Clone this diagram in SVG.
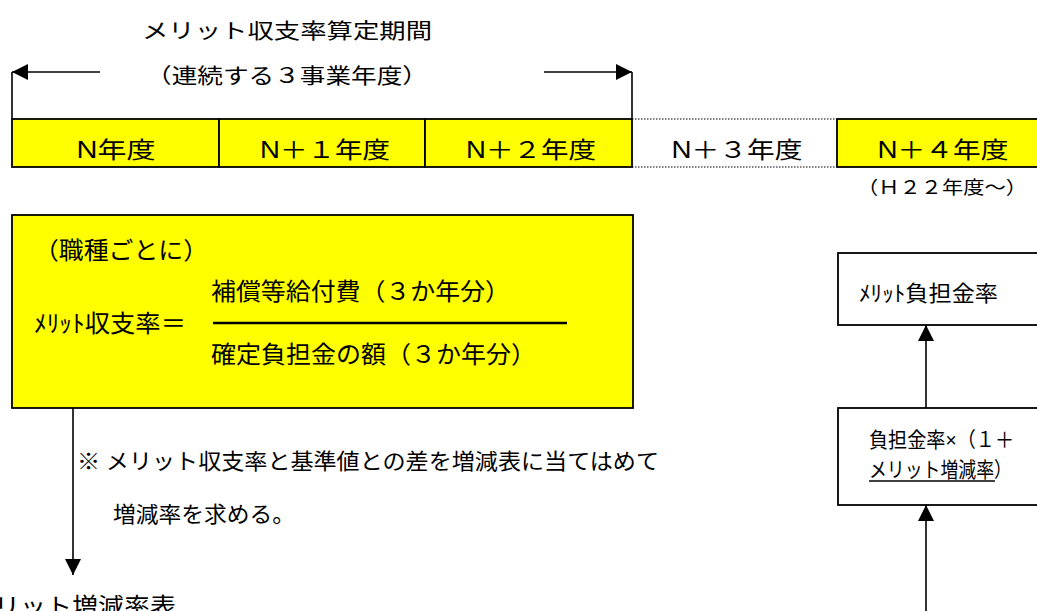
<svg xmlns="http://www.w3.org/2000/svg" width="1037" height="611" viewBox="0 0 1037 611">
<style>
.sans{font-family:"Liberation Sans","Noto Sans CJK JP",sans-serif;fill:#000}
.serif{font-family:"Liberation Serif","Noto Sans CJK JP",serif;fill:#000}
.ln{stroke:#000;stroke-width:1.6;fill:none}
.yel{fill:#ffff00;stroke:#000;stroke-width:1.8}
.box{fill:#fff;stroke:#000;stroke-width:1.8}
.dot{stroke:#000;stroke-width:1.2;stroke-dasharray:1.5 1.5;fill:none}
</style>
<defs>
<marker id="ah" viewBox="0 0 16 16" refX="16" refY="8" markerWidth="16" markerHeight="16" markerUnits="userSpaceOnUse" orient="auto">
<path d="M0,0 L16,8 L0,16 z" fill="#000"/>
</marker>
</defs>
<rect width="1037" height="611" fill="#fff"/>

<g id="period-label">
<text class="sans" x="287" y="38" font-size="21" text-anchor="middle" textLength="290" lengthAdjust="spacingAndGlyphs">メリット収支率算定期間</text>
<text class="sans" x="287" y="83" font-size="21" text-anchor="middle" textLength="282" lengthAdjust="spacingAndGlyphs">（連続する３事業年度）</text>
</g>

<g id="year-n">
<rect class="yel" x="12" y="119" width="207" height="48"/>
<text class="sans" x="116" y="158" font-size="23" text-anchor="middle" textLength="79" lengthAdjust="spacingAndGlyphs">N年度</text>
</g>
<g id="year-n1">
<rect class="yel" x="219" y="119" width="206" height="48"/>
<text class="sans" x="325" y="158" font-size="23" text-anchor="middle" textLength="130" lengthAdjust="spacingAndGlyphs">N＋１年度</text>
</g>
<g id="year-n2">
<rect class="yel" x="425" y="119" width="207" height="48"/>
<text class="sans" x="531" y="158" font-size="23" text-anchor="middle" textLength="130" lengthAdjust="spacingAndGlyphs">N＋２年度</text>
</g>
<g id="year-n3">
<line class="dot" x1="632" y1="119" x2="837" y2="119"/>
<line class="dot" x1="632" y1="167" x2="837" y2="167"/>
<text class="sans" x="737" y="158" font-size="23" text-anchor="middle" textLength="131" lengthAdjust="spacingAndGlyphs">N＋３年度</text>
</g>
<g id="year-n4">
<rect class="yel" x="837" y="119" width="210" height="48"/>
<text class="sans" x="943" y="158" font-size="23" text-anchor="middle" textLength="131" lengthAdjust="spacingAndGlyphs">N＋４年度</text>
<text class="serif" x="942" y="194" font-size="18" text-anchor="middle" textLength="170" lengthAdjust="spacingAndGlyphs">（Ｈ２２年度〜）</text>
</g>

<g id="formula-box">
<rect class="yel" x="12" y="215" width="621" height="193"/>
<text class="sans" x="121" y="259" font-size="24" text-anchor="middle" textLength="174" lengthAdjust="spacingAndGlyphs">（職種ごとに）</text>
<text class="sans" x="34" y="332" font-size="24" textLength="152" lengthAdjust="spacingAndGlyphs">ﾒﾘｯﾄ収支率＝</text>
<text class="sans" x="211" y="300" font-size="24" textLength="299" lengthAdjust="spacingAndGlyphs">補償等給付費（３か年分）</text>
<line x1="213" y1="323" x2="567" y2="323" stroke="#000" stroke-width="2.5"/>
<text class="sans" x="211" y="363" font-size="24" textLength="325" lengthAdjust="spacingAndGlyphs">確定負担金の額（３か年分）</text>
</g>

<g id="note">
<text class="serif" x="77" y="469" font-size="22" textLength="582" lengthAdjust="spacingAndGlyphs">※ メリット収支率と基準値との差を増減表に当てはめて</text>
<text class="serif" x="113" y="522" font-size="22" textLength="182" lengthAdjust="spacingAndGlyphs">増減率を求める。</text>
</g>

<g id="merit-table">
<text class="sans" x="-32" y="615" font-size="24" textLength="208" lengthAdjust="spacingAndGlyphs">メリット増減率表</text>
</g>

<g id="merit-rate">
<rect class="box" x="838" y="253" width="210" height="72"/>
<text class="sans" x="859" y="301" font-size="22" textLength="139" lengthAdjust="spacingAndGlyphs">ﾒﾘｯﾄ負担金率</text>
</g>

<g id="rate-formula">
<rect class="box" x="838" y="408" width="210" height="97"/>
<text class="sans" x="869" y="447" font-size="21" textLength="145" lengthAdjust="spacingAndGlyphs">負担金率×（１＋</text>
<text class="sans" x="869" y="477" font-size="21" textLength="143" lengthAdjust="spacingAndGlyphs">メリット増減率）</text>
<line x1="869" y1="481" x2="995" y2="481" stroke="#000" stroke-width="1.5"/>
</g>

<g id="connectors">
<line class="ln" x1="12" y1="119" x2="12" y2="72"/>
<line class="ln" x1="100" y1="72" x2="12" y2="72" marker-end="url(#ah)"/>
<line class="ln" x1="544" y1="72" x2="632" y2="72" marker-end="url(#ah)"/>
<line class="ln" x1="632" y1="72" x2="632" y2="119"/>
<line class="ln" x1="73" y1="408" x2="73" y2="575" marker-end="url(#ah)"/>
<line class="ln" x1="926" y1="408" x2="926" y2="325" marker-end="url(#ah)"/>
<line class="ln" x1="926" y1="611" x2="926" y2="505" marker-end="url(#ah)"/>
</g>
</svg>
